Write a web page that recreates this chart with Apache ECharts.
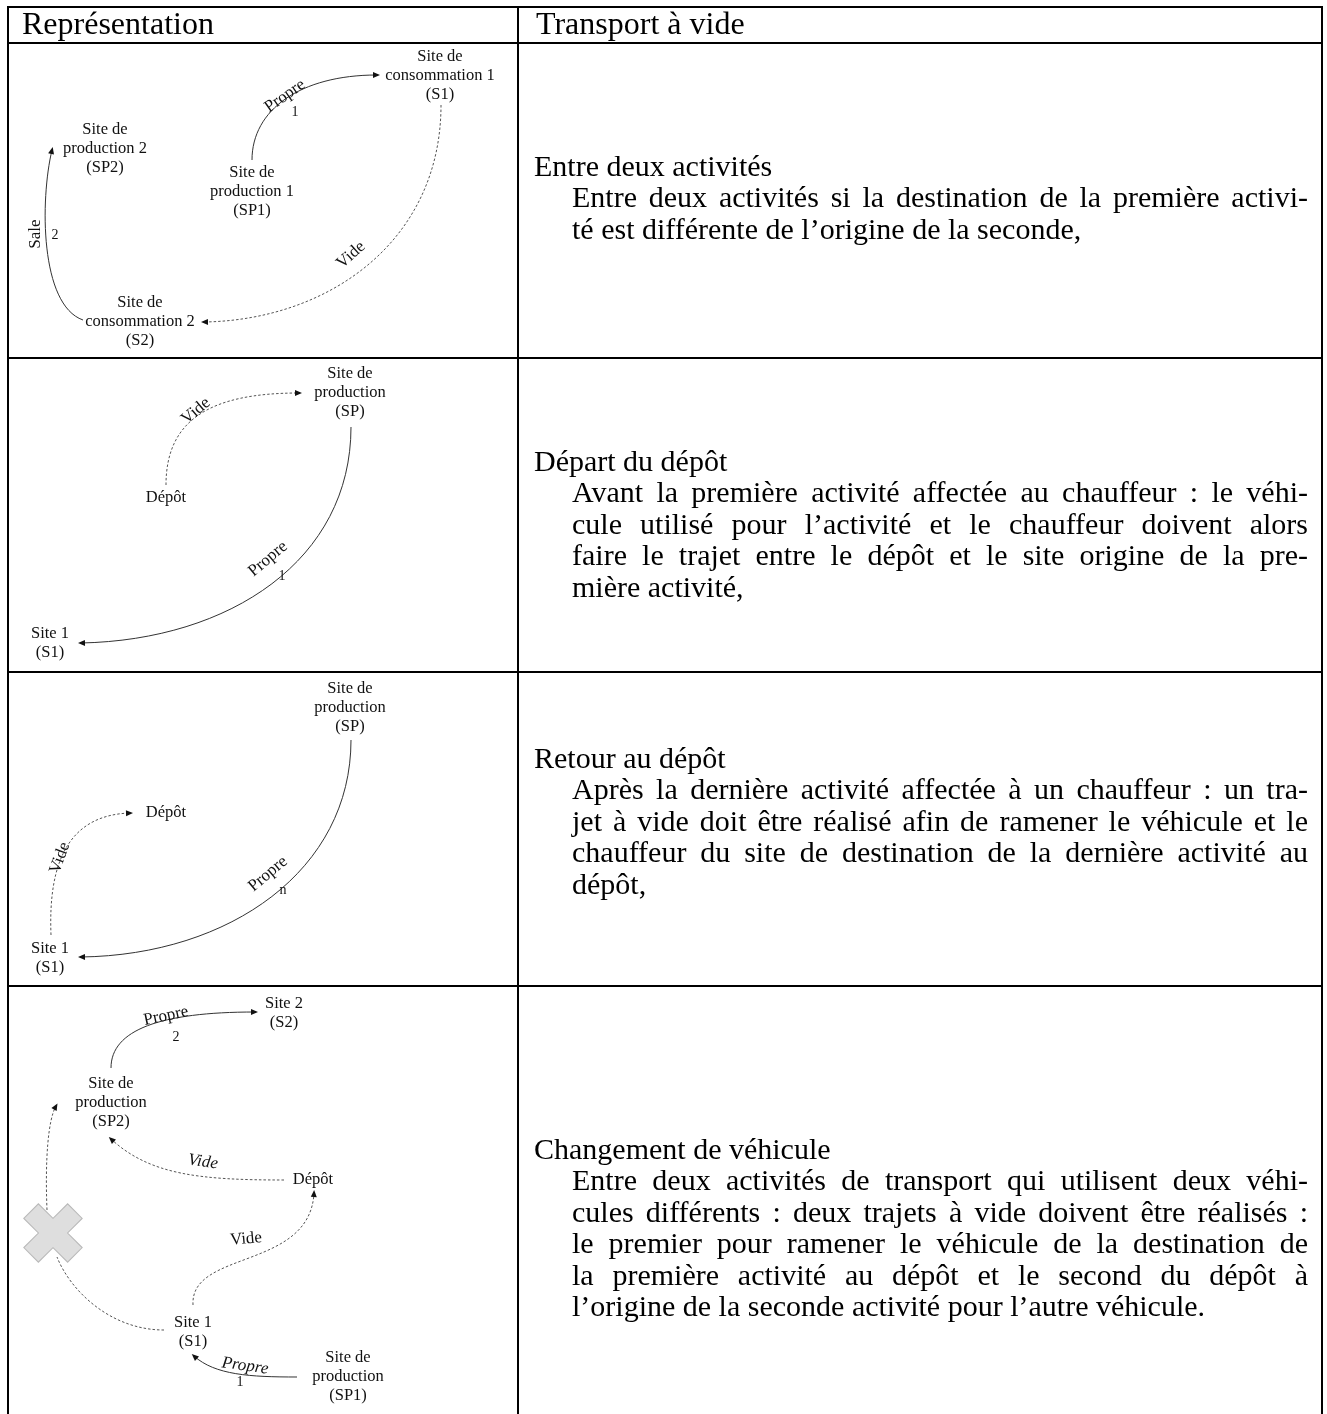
<!DOCTYPE html>
<html><head><meta charset="utf-8">
<script src="https://cdn.jsdelivr.net/npm/echarts@6/dist/echarts.min.js"></script>
<style>html,body{margin:0;padding:0;background:#fff}#c{width:1327px;height:1414px}</style>
</head><body><div id="c"></div>
<script>
// ---------------- DATA ----------------
const headers = ['Représentation', 'Transport à vide'];
const rowTitles = ['Entre deux activités', 'Départ du dépôt', 'Retour au dépôt', 'Changement de véhicule'];
const rowBody1 = ['Entre deux activités si la destination de la première activi-', 'té est différente de l’origine de la seconde,'];
const rowBody2 = ['Avant la première activité affectée au chauffeur : le véhi-', 'cule utilisé pour l’activité et le chauffeur doivent alors', 'faire le trajet entre le dépôt et le site origine de la pre-', 'mière activité,'];
const rowBody3 = ['Après la dernière activité affectée à un chauffeur : un tra-', 'jet à vide doit être réalisé afin de ramener le véhicule et le', 'chauffeur du site de destination de la dernière activité au', 'dépôt,'];
const rowBody4 = ['Entre deux activités de transport qui utilisent deux véhi-', 'cules différents : deux trajets à vide doivent être réalisés :', 'le premier pour ramener le véhicule de la destination de', 'la première activité au dépôt et le second du dépôt à', 'l’origine de la seconde activité pour l’autre véhicule.'];

// diagram nodes: [x, y, label] in each panel's own diagram units
const p1Nodes = [[432, 33, 'Site de\nconsommation 1\n(S1)'], [97, 106, 'Site de\nproduction 2\n(SP2)'], [244, 149, 'Site de\nproduction 1\n(SP1)'], [132, 279, 'Site de\nconsommation 2\n(S2)']];
const p2Nodes = [[342, 35, 'Site de\nproduction\n(SP)'], [158, 140, 'Dépôt'], [42, 285, 'Site 1\n(S1)']];
const p3Nodes = [[342, 36, 'Site de\nproduction\n(SP)'], [158, 141, 'Dépôt'], [42, 286, 'Site 1\n(S1)']];
const p4Nodes = [[276, 27, 'Site 2\n(S2)'], [103, 117, 'Site de\nproduction\n(SP2)'], [305, 194, 'Dépôt'], [185, 346, 'Site 1\n(S1)'], [340, 391, 'Site de\nproduction\n(SP1)']];
const p4Blocked = [[45, 247]];

// edges: start, control 1, control 2, end, dashed (1) / solid (0), arrow at end (1/0)
const p1Edges = [
  [244, 117, 244, 67, 292, 32, 369, 32, 0, 1],
  [433, 62, 433, 197, 322, 277, 196, 279, 1, 1],
  [75, 277, 32, 262, 32, 157, 44, 107, 0, 1]
];
const p2Edges = [
  [158, 127, 158, 62, 202, 35, 291, 35, 1, 1],
  [343, 69, 343, 202, 222, 282, 73, 285, 0, 1]
];
const p3Edges = [
  [43, 263, 40, 188, 62, 143, 122, 141, 1, 1],
  [343, 68, 343, 198, 222, 283, 73, 285, 0, 1]
];
const p4Edges = [
  [103, 82, 103, 44, 152, 26, 247, 26, 0, 1],
  [39, 224, 37, 174, 40, 134, 48, 120, 1, 1],
  [276, 194, 192, 194, 142, 189, 103, 153, 1, 1],
  [185, 319, 182, 264, 302, 284, 306, 207, 1, 1],
  [156, 344, 102, 344, 62, 304, 49, 271, 1, 0],
  [289, 391, 242, 391, 207, 389, 186, 370, 0, 1]
];

// edge labels: [x, y, angle (deg, counter-clockwise), text, kind (0 word, 1 number), italic]
const p1Labels = [[277, 53, 35, 'Propre', 0, 0], [287, 69, 0, '1', 1, 0], [343, 212, 42, 'Vide', 0, 0], [28, 191, 90, 'Sale', 0, 0], [47, 192, 0, '2', 1, 0]];
const p2Labels = [[188, 53, 40, 'Vide', 0, 0], [260, 201, 40, 'Propre', 0, 0], [274, 218, 0, '1', 1, 0]];
const p3Labels = [[52, 186, 70, 'Vide', 0, 0], [260, 202, 40, 'Propre', 0, 0], [275, 218, 0, 'n', 1, 0]];
const p4Labels = [[158, 30, 12, 'Propre', 0, 0], [168, 51, 0, '2', 1, 0], [195, 176, -8, 'Vide', 0, 1], [238, 253, 5, 'Vide', 0, 0], [237, 380, -8, 'Propre', 0, 1], [232, 396, 0, '1', 1, 0]];

// ---------------- LAYOUT ----------------
const SERIF = '"Liberation Serif", "DejaVu Serif", serif';
const cells = [
  {left: 8, top: 43, width: 510, height: 315},
  {left: 8, top: 358, width: 510, height: 314},
  {left: 8, top: 672, width: 510, height: 314},
  {left: 8, top: 986, width: 510, height: 428}
];
const titleY = [168, 463, 760, 1151];
const LINE_H = 31.5;
const TITLE_X = 534, BODY_X = 572, BODY_R = 1308;
const BODY_FONT = '30px ' + SERIF;
const HEAD_FONT = '32px ' + SERIF;

const chart = echarts.init(document.getElementById('c'), null, {renderer: 'canvas'});

function edgeRenderer(edges) {
  return function (params, api) {
    const e = edges[params.dataIndex];
    const p0 = api.coord([e[0], e[1]]), c1 = api.coord([e[2], e[3]]), c2 = api.coord([e[4], e[5]]), p3 = api.coord([e[6], e[7]]);
    const children = [];
    let ux = 0, uy = 0;
    if (e[9]) {
      const dx = p3[0] - c2[0], dy = p3[1] - c2[1];
      const L = Math.hypot(dx, dy) || 1;
      ux = dx / L; uy = dy / L;
    }
    children.push({
      type: 'bezierCurve',
      shape: {x1: p0[0], y1: p0[1], cpx1: c1[0], cpy1: c1[1], cpx2: c2[0], cpy2: c2[1], x2: p3[0], y2: p3[1]},
      style: {stroke: e[8] ? '#555' : '#333', fill: null, lineWidth: 1, lineDash: e[8] ? [2.5, 2] : null}
    });
    if (e[9]) {
      const len = 7, w = 3;
      const tip = [p3[0] + ux * 3, p3[1] + uy * 3];
      const bx = tip[0] - ux * len, by = tip[1] - uy * len;
      children.push({type: 'polygon', shape: {points: [tip, [bx - uy * w, by + ux * w], [bx + uy * w, by - ux * w]]}, style: {fill: '#111'}});
    }
    return {type: 'group', children};
  };
}
function nodeRenderer(nodes) {
  return function (params, api) {
    const n = nodes[params.dataIndex];
    const p = api.coord([n[0], n[1]]);
    return {type: 'text', x: p[0], y: p[1], style: {text: n[2], font: '16.5px ' + SERIF, fill: '#111', align: 'center', textAlign: 'center', verticalAlign: 'middle', textVerticalAlign: 'middle', lineHeight: 19}};
  };
}
function labelRenderer(labels) {
  return function (params, api) {
    const l = labels[params.dataIndex];
    const p = api.coord([l[0], l[1]]);
    const size = l[4] ? 14 : 17;
    return {type: 'text', x: p[0], y: p[1], rotation: l[2] * Math.PI / 180, style: {text: l[3], font: (l[5] ? 'italic ' : '') + size + 'px ' + SERIF, fill: '#111', align: 'center', textAlign: 'center', verticalAlign: 'middle', textVerticalAlign: 'middle'}};
  };
}

const panels = [[p1Nodes, p1Edges, p1Labels], [p2Nodes, p2Edges, p2Labels], [p3Nodes, p3Edges, p3Labels], [p4Nodes, p4Edges, p4Labels]];
const grid = [], xAxis = [], yAxis = [], series = [];
cells.forEach((c, i) => {
  grid.push({left: c.left, top: c.top, width: c.width, height: c.height, show: false});
  xAxis.push({type: 'value', gridIndex: i, min: 0, max: c.width, show: false});
  yAxis.push({type: 'value', gridIndex: i, min: 0, max: c.height, inverse: true, show: false});
});
panels.forEach((p, i) => {
  const [nodes, edges, labels] = p;
  if (i === 3) {
    series.push({type: 'scatter', xAxisIndex: i, yAxisIndex: i, silent: true, z: 1,
      symbol: 'path://M-1,-3 L1,-3 L1,-1 L3,-1 L3,1 L1,1 L1,3 L-1,3 L-1,1 L-3,1 L-3,-1 L-1,-1 Z',
      symbolSize: 62, symbolRotate: 45, itemStyle: {color: '#d6d6d6', borderColor: '#aaaaaa', borderWidth: 1},
      data: p4Blocked});
  }
  series.push({type: 'custom', xAxisIndex: i, yAxisIndex: i, silent: true, z: 2, renderItem: edgeRenderer(edges), data: edges.map(e => [e[0], e[1], e[6], e[7]])});
  series.push({type: 'custom', xAxisIndex: i, yAxisIndex: i, silent: true, z: 3, renderItem: nodeRenderer(nodes), data: nodes.map(n => [n[0], n[1]])});
  series.push({type: 'custom', xAxisIndex: i, yAxisIndex: i, silent: true, z: 3, renderItem: labelRenderer(labels), data: labels.map(l => [l[0], l[1]])});
});

// ---------- table & right column text (graphic) ----------
const mctx = document.createElement('canvas').getContext('2d');
function textEl(t, x, y, font) {
  return {type: 'text', x, y, style: {text: t, font, fill: '#000', align: 'left', textAlign: 'left', verticalAlign: 'middle', textVerticalAlign: 'middle'}};
}
function paragraph(lines, y0) {
  const els = [];
  lines.forEach((ln, k) => {
    const y = y0 + k * LINE_H;
    if (k === lines.length - 1) { els.push(textEl(ln, BODY_X, y, BODY_FONT)); return; }
    mctx.font = BODY_FONT;
    const words = ln.split(' ');
    const ws = words.map(w => mctx.measureText(w).width);
    const tot = ws.reduce((a, b) => a + b, 0);
    const gap = (BODY_R - BODY_X - tot) / (words.length - 1);
    let x = BODY_X;
    words.forEach((w, j) => { els.push(textEl(w, x, y, BODY_FONT)); x += ws[j] + gap; });
  });
  return els;
}
const g = [];
function hline(y, x1, x2) { g.push({type: 'line', shape: {x1, y1: y, x2, y2: y}, style: {stroke: '#000', lineWidth: 2}}); }
function vline(x, y1, y2) { g.push({type: 'line', shape: {x1: x, y1, x2: x, y2}, style: {stroke: '#000', lineWidth: 2}}); }
hline(7, 7, 1323); hline(43, 7, 1323); hline(358, 7, 1323); hline(672, 7, 1323); hline(986, 7, 1323);
vline(8, 6, 1414); vline(518, 6, 1414); vline(1322, 6, 1414);
g.push(textEl(headers[0], 22, 26, HEAD_FONT));
g.push(textEl(headers[1], 536, 26, HEAD_FONT));
const bodies = [rowBody1, rowBody2, rowBody3, rowBody4];
rowTitles.forEach((t, i) => {
  g.push(textEl(t, TITLE_X, titleY[i], BODY_FONT));
  paragraph(bodies[i], titleY[i] + LINE_H).forEach(e => g.push(e));
});

chart.setOption({
  animation: false,
  backgroundColor: '#fff',
  grid, xAxis, yAxis, series,
  graphic: {elements: g}
});
</script></body></html>
